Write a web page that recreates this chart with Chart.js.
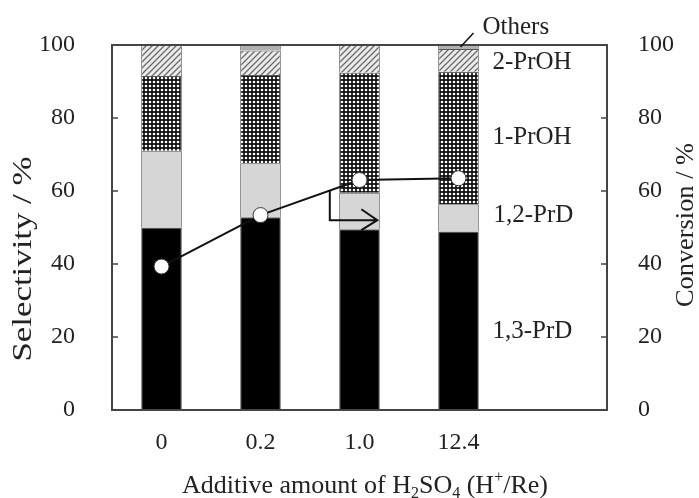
<!DOCTYPE html>
<html>
<head>
<meta charset="utf-8">
<script src="https://cdn.jsdelivr.net/npm/chart.js@4/dist/chart.umd.min.js"></script>
<style>
  body { margin: 0; background: #fff; }
  #wrap { width: 699px; height: 498px; }
</style>
</head>
<body>
<div id="wrap"><canvas id="chart"></canvas></div>
<script>
// additive amount of H2SO4 (H+/Re); last slot is an empty spacer
const categories = ["0", "0.2", "1.0", "12.4", ""];

// selectivity / %
const prd13 = [50, 52.8, 49.5, 48.9];
const prd12 = [21, 14.8, 10, 7.5];
const proh1 = [20.5, 24.2, 32.9, 36.3];
const proh2 = [8.5, 6.7, 7.6, 6.2];
const others = [0, 1.5, 0, 1.1];

// conversion / %
const conversion = [39.3, 53.4, 63, 63.5];

const FONT = "'Liberation Serif', 'Times New Roman', serif";
const INK = "#222";

function hatchPattern() {
  const c = document.createElement("canvas");
  c.width = 6; c.height = 6;
  const g = c.getContext("2d");
  g.fillStyle = "#ececec";
  g.fillRect(0, 0, 6, 6);
  g.strokeStyle = "#6a6a6a";
  g.lineWidth = 1.3;
  g.beginPath();
  g.moveTo(0, 6); g.lineTo(6, 0);
  g.moveTo(-1, 1); g.lineTo(1, -1);
  g.moveTo(5, 7); g.lineTo(7, 5);
  g.stroke();
  return g.createPattern(c, "repeat");
}

function dotPattern() {
  const c = document.createElement("canvas");
  c.width = 4; c.height = 4;
  const g = c.getContext("2d");
  g.fillStyle = "#111";
  g.fillRect(0, 0, 4, 4);
  g.fillStyle = "#fff";
  g.beginPath();
  g.arc(2, 2, 1.3, 0, Math.PI * 2);
  g.fill();
  return g.createPattern(c, "repeat");
}

// rotated title, stretched along its length to the given size
function verticalTitle(ctx, text, x, y, length) {
  ctx.save();
  ctx.translate(x, y);
  ctx.rotate(-Math.PI / 2);
  ctx.scale(length / ctx.measureText(text).width, 1);
  ctx.fillText(text, 0, 0);
  ctx.restore();
}

// frame, inward ticks, arrow, segment labels and axis titles
const decorations = {
  id: "decorations",
  afterDatasetsDraw(chart) {
    const ctx = chart.ctx;
    const a = chart.chartArea;
    const xs = chart.scales.x, ys = chart.scales.y, y2 = chart.scales.y2;
    ctx.save();

    // frame
    ctx.strokeStyle = "#444";
    ctx.lineWidth = 2;
    ctx.strokeRect(a.left, a.top, a.right - a.left, a.bottom - a.top);

    // inward ticks
    ctx.lineWidth = 1.5;
    ctx.beginPath();
    for (let v = 20; v < 100; v += 20) {
      const py = ys.getPixelForValue(v);
      ctx.moveTo(a.left, py); ctx.lineTo(a.left + 6, py);
      const qy = y2.getPixelForValue(v);
      ctx.moveTo(a.right, qy); ctx.lineTo(a.right - 6, qy);
    }
    ctx.stroke();

    // arrow pointing to the conversion axis
    const x1 = xs.getPixelForValue(1), x2 = xs.getPixelForValue(2);
    const sx = x1 + 0.7 * (x2 - x1);
    const sy = y2.getPixelForValue(conversion[1] + 0.7 * (conversion[2] - conversion[1]));
    const ey = y2.getPixelForValue(52);
    const ex = x2 + 0.18 * (x2 - x1);
    ctx.strokeStyle = "#111";
    ctx.lineWidth = 2;
    ctx.beginPath();
    ctx.moveTo(sx, sy); ctx.lineTo(sx, ey); ctx.lineTo(ex, ey);
    ctx.moveTo(ex - 16, ey - 11); ctx.lineTo(ex, ey); ctx.lineTo(ex - 16, ey + 10);
    ctx.stroke();

    // leader line to "Others"
    const bx = xs.getPixelForValue(3);
    const top = ys.getPixelForValue(100);
    ctx.lineWidth = 1.5;
    ctx.beginPath();
    ctx.moveTo(bx + 2, top + 2); ctx.lineTo(bx + 15, top - 12);
    ctx.stroke();

    // segment labels
    ctx.fillStyle = INK;
    ctx.font = "25px " + FONT;
    ctx.textBaseline = "middle";
    ctx.textAlign = "left";
    [["Others", 104.7, 24], ["2-PrOH", 95.3, 34], ["1-PrOH", 74.8, 34],
     ["1,2-PrD", 53.4, 35], ["1,3-PrD", 21.4, 34]].forEach(([t, v, dx]) => {
      ctx.fillText(t, bx + dx, ys.getPixelForValue(v));
    });

    // y titles, both reading bottom to top
    ctx.textAlign = "center";
    ctx.font = "27px " + FONT;
    verticalTitle(ctx, "Selectivity / %", 24, 259, 205);
    ctx.font = "25px " + FONT;
    verticalTitle(ctx, "Conversion / %", 686, 225, 164);

    // x title with sub/superscripts
    const parts = [
      ["Additive amount of H", 0], ["2", 1], ["SO", 0], ["4", 1],
      [" (H", 0], ["+", -1], ["/Re)", 0]
    ];
    const big = "26px " + FONT, small = "16px " + FONT;
    let w = 0;
    parts.forEach(([t, s]) => { ctx.font = s ? small : big; w += ctx.measureText(t).width; });
    let px = 365 - w / 2;
    const base = 486;
    ctx.textAlign = "left";
    parts.forEach(([t, s]) => {
      ctx.font = s ? small : big;
      ctx.fillText(t, px, base + s * 8);
      px += ctx.measureText(t).width;
    });

    ctx.restore();
  }
};

const barStyle = { type: "bar", borderColor: "#555", borderWidth: 1, order: 1, yAxisID: "y" };
const tickFont = { family: FONT, size: 24 };

new Chart("chart", {
  data: {
    labels: categories,
    datasets: [
      {
        type: "line",
        label: "Conversion",
        data: conversion,
        yAxisID: "y2",
        order: 0,
        borderColor: "#111",
        borderWidth: 2,
        pointRadius: 7.5,
        pointBackgroundColor: "#fff",
        pointBorderColor: "#333",
        pointBorderWidth: 1,
        tension: 0
      },
      { ...barStyle, label: "1,3-PrD", data: prd13, backgroundColor: "#000" },
      { ...barStyle, label: "1,2-PrD", data: prd12, backgroundColor: "#d6d6d6" },
      { ...barStyle, label: "1-PrOH", data: proh1, backgroundColor: dotPattern() },
      { ...barStyle, label: "2-PrOH", data: proh2, backgroundColor: hatchPattern() },
      { ...barStyle, label: "Others", data: others, backgroundColor: "#b0b0b0" }
    ]
  },
  options: {
    responsive: true,
    maintainAspectRatio: false,
    animation: false,
    layout: { padding: { top: 45, left: 0, right: 0, bottom: 0 } },
    datasets: { bar: { barPercentage: 0.41, categoryPercentage: 1 } },
    plugins: { legend: { display: false }, tooltip: { enabled: false } },
    scales: {
      x: {
        stacked: true,
        grid: { display: false },
        border: { display: false },
        ticks: { color: INK, font: tickFont, padding: 10, maxRotation: 0 },
        afterFit(s) { s.height = 88; }
      },
      y: {
        stacked: true,
        position: "left",
        min: 0, max: 100,
        grid: { display: false },
        border: { display: false },
        ticks: { stepSize: 20, color: INK, font: tickFont, padding: 29 },
        afterFit(s) { s.width = 112; }
      },
      y2: {
        position: "right",
        min: 0, max: 100,
        grid: { display: false },
        border: { display: false },
        ticks: { stepSize: 20, color: INK, font: tickFont, padding: 23 },
        afterFit(s) { s.width = 92; }
      }
    }
  },
  plugins: [decorations]
});
</script>
</body>
</html>
